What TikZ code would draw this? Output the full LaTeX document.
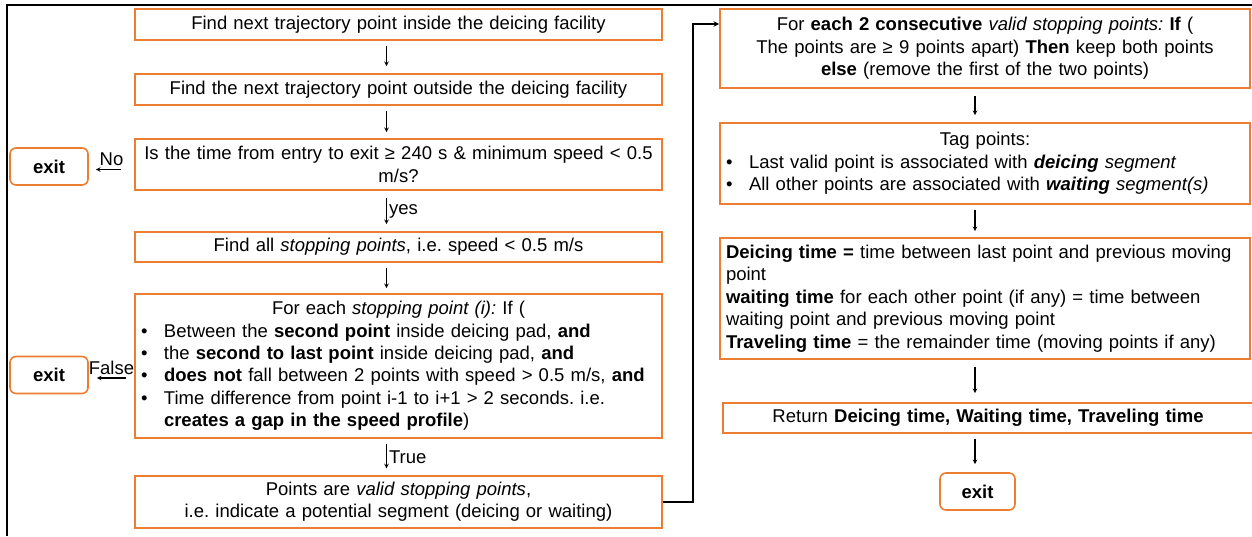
\documentclass[tikz,border=0pt]{standalone}
\usepackage{fontspec}
\setmainfont{Liberation Sans}
\frenchspacing
\definecolor{boxorange}{RGB}{237,125,49}
\newcommand{\bul}{\par\hangindent=23pt\hangafter=1\noindent\makebox[23pt][l]{\textbullet}}

\begin{document}
\begin{tikzpicture}[>=stealth, x=1pt, y=-1pt, font=\fontsize{18.5}{22.4}\selectfont,
  box/.style={draw=boxorange, line width=1.6pt, inner sep=6pt, text width=515pt, align=center},
  wbox/.style={box, text width=518pt},
  exitbox/.style={draw=boxorange, line width=1.6pt, rounded corners=6pt, minimum width=78pt, minimum height=37pt, font=\fontsize{18.5}{22.4}\selectfont\bfseries},
  link/.style={->, line width=1.1pt}]
\useasboundingbox (0,0) rectangle (1252,536);
\draw[line width=1.5pt](7,536)--(7,5)--(1252,5);
\node[box, minimum height=31pt](inside) at (398.5,24.5){Find next trajectory point inside the deicing facility};
\node[box, minimum height=31pt](outside) at (398.5,89.5){Find the next trajectory point outside the deicing facility};
\node[box, minimum height=51pt](check) at (398.5,164.5){Is the time from entry to exit ≥ 240 s \& minimum speed < 0.5\\ m/s?};
\node[box, minimum height=30pt](stops) at (398.5,247){Find all \textit{stopping points}, i.e. speed < 0.5 m/s};
\node[box, align=left, minimum height=144pt](cond) at (398.5,366){{\centering For each \textit{stopping point (i):} If (\par}
  \bul Between the \textbf{second point} inside deicing pad, \textbf{and}
  \bul the \textbf{second to last point} inside deicing pad, \textbf{and}
  \bul \textbf{does not} fall between 2 points with speed > 0.5 m/s, \textbf{and}
  \bul Time difference from point i-1 to i+1 > 2 seconds. i.e.\hfil\break \textbf{creates a gap in the speed profile})\par};
\node[box, minimum height=50pt](valid) at (398.5,502){Points are \textit{valid stopping points},\\ i.e. indicate a potential segment (deicing or waiting)};
\node[exitbox](exitA) at (49,166.5){exit};
\node[exitbox](exitB) at (49,375){exit};
\node[wbox, minimum height=79pt](pairs) at (985,48.5){For \textbf{each 2 consecutive} \textit{valid stopping points:} \textbf{If} (\\ The points are ≥ 9 points apart) \textbf{Then} keep both points\\ \textbf{else} (remove the first of the two points)};
\node[wbox, align=left, minimum height=81pt](tag) at (985,163.5){{\centering Tag points:\par}
  \bul Last valid point is associated with \textbf{\textit{deicing}} \textit{segment}
  \bul All other points are associated with \textbf{\textit{waiting}} \textit{segment(s)}\par};
\node[wbox, align=left, minimum height=121pt](times) at (985,298.5){\textbf{Deicing time =} time between last point and previous moving\\ point\\ \textbf{waiting time} for each other point (if any) = time between\\ waiting point and previous moving point\\ \textbf{Traveling time} = the remainder time (moving points if any)};
\node[wbox, minimum height=30pt](result) at (988,418){Return \textbf{Deicing time, Waiting time, Traveling time}};
\node[exitbox, minimum width=75pt](exitC) at (977.5,491.5){exit};
\coordinate (up) at (693,24);
\draw[link, shorten <=5pt, shorten >=7pt]([xshift=-12pt]inside.south)--([xshift=-12pt]outside.north);
\draw[link, shorten <=5pt, shorten >=6pt]([xshift=-12pt]outside.south)--([xshift=-12pt]check.north);
\draw[link, shorten <=7pt, shorten >=7pt]([xshift=-12pt]check.south)--node[right, inner sep=2pt]{yes}([xshift=-12pt]stops.north);
\draw[link, shorten <=5pt, shorten >=5pt]([xshift=-12pt]stops.south)--([xshift=-12pt]cond.north);
\draw[link, shorten <=5pt, shorten >=7pt]([xshift=-12pt]cond.south)--node[right, inner sep=2pt]{True}([xshift=-12pt]valid.north);
\draw[link, shorten <=13pt, shorten >=7pt]([yshift=-5pt]check.west)--node[above, inner sep=3pt]{No}([yshift=-5pt]check.west-|exitA.east);
\draw[link, shorten <=8pt, shorten >=8pt]([yshift=-12pt]cond.west)--node[above, inner sep=3pt]{False}([yshift=-12pt]cond.west-|exitB.east);
\draw[link, line width=1.5pt](valid.east)--(valid.east-|up)--(up)--(up-|pairs.west);
\draw[link, shorten <=7pt, shorten >=7pt]([xshift=-10pt]pairs.south)--([xshift=-10pt]pairs.south|-tag.north);
\draw[link, shorten <=5pt, shorten >=6pt]([xshift=-10pt]tag.south)--([xshift=-10pt]tag.south|-times.north);
\draw[link, shorten <=7pt, shorten >=9pt]([xshift=-10pt]times.south)--([xshift=-10pt]times.south|-result.north);
\draw[link, shorten <=5pt, shorten >=8pt]([xshift=-13pt]result.south)--([xshift=-13pt]result.south|-exitC.north);
\end{tikzpicture}
\end{document}
